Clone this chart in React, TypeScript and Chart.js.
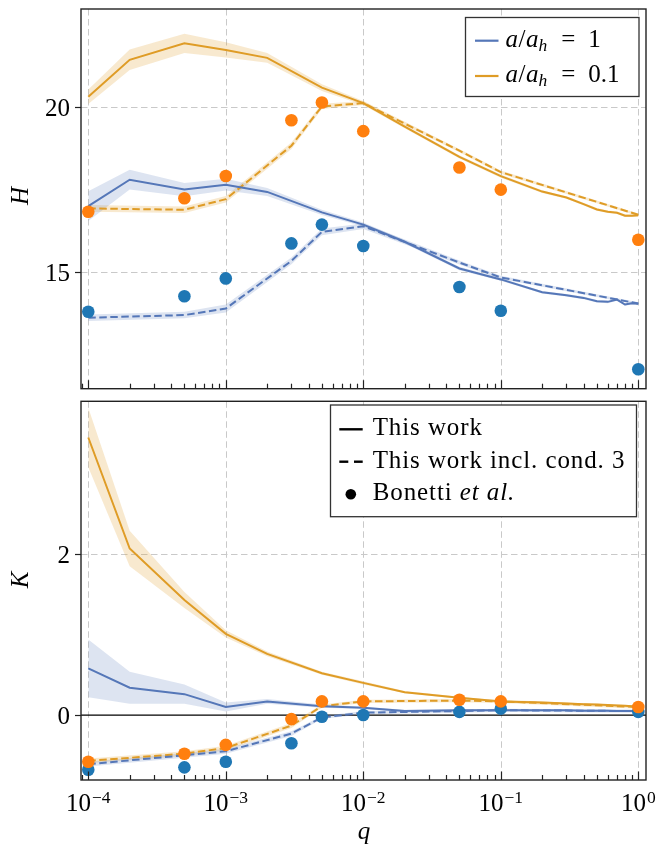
import React, { useEffect, useRef } from 'react';
import { Chart, registerables } from 'chart.js';

Chart.register(...registerables);

// ---------------- data ----------------
const qSim = [1e-4, 2e-4, 5e-4, 1e-3, 2e-3, 5e-3, 1e-2, 2e-2, 5e-2, 0.1, 0.2, 0.3, 0.4, 0.5, 0.6, 0.7, 0.8, 0.9, 1];
const qCond = [1e-4, 5e-4, 1e-3, 3e-3, 5e-3, 1e-2, 5e-2, 0.1, 1];
const qBonetti = [1e-4, 5e-4, 1e-3, 3e-3, 5e-3, 1e-2, 5e-2, 0.1, 1];

// H, a/a_h = 1
const hWorkA1 = [17.01, 17.81, 17.51, 17.66, 17.44, 16.82, 16.45, 15.93, 15.12, 14.79, 14.40, 14.31, 14.23, 14.13, 14.11, 14.18, 14.03, 14.07, 14.05];
const hWorkA1Err = [0.45, 0.30, 0.20, 0.18, 0.12, 0.08, 0.06, 0.05, 0.05, 0.04, 0.04, 0.04, 0.04, 0.04, 0.04, 0.04, 0.04, 0.04, 0.04];
const hCondA1 = [13.63, 13.71, 13.91, 15.35, 16.23, 16.40, 15.30, 14.85, 14.06];
const hCondA1Err = [0.10, 0.10, 0.12, 0.10, 0.10, 0.08, 0.06, 0.05, 0.04];
const hBonettiA1 = [13.81, 14.28, 14.82, 15.88, 16.45, 15.80, 14.56, 13.84, 12.07];

// H, a/a_h = 0.1
const hWorkA01 = [20.32, 21.44, 21.94, 21.74, 21.50, 20.60, 20.13, 19.42, 18.50, 17.92, 17.45, 17.27, 17.07, 16.91, 16.84, 16.81, 16.72, 16.72, 16.73];
const hWorkA01Err = [0.22, 0.31, 0.29, 0.23, 0.15, 0.10, 0.06, 0.05, 0.05, 0.05, 0.04, 0.04, 0.04, 0.04, 0.04, 0.04, 0.04, 0.04, 0.04];
const hCondA01 = [16.94, 16.90, 17.22, 18.84, 20.03, 20.13, 18.69, 18.04, 16.75];
const hCondA01Err = [0.10, 0.10, 0.10, 0.10, 0.08, 0.06, 0.05, 0.05, 0.04];
const hBonettiA01 = [16.84, 17.25, 17.92, 19.61, 20.15, 19.28, 18.18, 17.51, 15.99];

// K, a/a_h = 1
const kWorkA1 = [0.58, 0.34, 0.26, 0.10, 0.17, 0.11, 0.09, 0.05, 0.06, 0.06, 0.06, 0.06, 0.055, 0.055, 0.055, 0.05, 0.05, 0.05, 0.05];
const kWorkA1Err = [0.36, 0.20, 0.12, 0.055, 0.03, 0.02, 0.015, 0.015, 0.01, 0.01, 0.01, 0.01, 0.01, 0.01, 0.01, 0.01, 0.01, 0.01, 0.01];
const kCondA1 = [-0.61, -0.50, -0.45, -0.23, -0.03, 0.03, 0.05, 0.06, 0.05];
const kCondA1Err = [0.03, 0.03, 0.03, 0.03, 0.02, 0.02, 0.02, 0.02, 0.02];
const kBonettiA1 = [-0.68, -0.65, -0.58, -0.35, -0.02, 0.0, 0.04, 0.08, 0.04];

// K, a/a_h = 0.1
const kWorkA01 = [3.45, 2.07, 1.43, 1.01, 0.76, 0.52, 0.40, 0.285, 0.215, 0.17, 0.155, 0.145, 0.135, 0.13, 0.125, 0.12, 0.115, 0.11, 0.105];
const kWorkA01Err = [0.37, 0.22, 0.10, 0.045, 0.03, 0.02, 0.02, 0.015, 0.012, 0.01, 0.01, 0.01, 0.01, 0.01, 0.01, 0.01, 0.01, 0.01, 0.01];
const kCondA01 = [-0.57, -0.48, -0.41, -0.13, 0.11, 0.17, 0.18, 0.17, 0.10];
const kCondA01Err = [0.03, 0.03, 0.03, 0.03, 0.02, 0.02, 0.02, 0.02, 0.02];
const kBonettiA01 = [-0.58, -0.48, -0.37, -0.05, 0.17, 0.17, 0.19, 0.17, 0.10];

// ticks / labels
const xMajorExps = [-4, -3, -2, -1, 0];
const hTicks = [15, 20];
const kTicks = [0, 2];
const kGrid = [2];
const legendRatios = ['1', '0.1'];
const legendStyles = ['This work', 'This work incl. cond. 3', 'Bonetti '];
const legendEtAl = 'et al.';

// ---------------- styles ----------------
const SERIF = '"Liberation Serif", "Times New Roman", serif';
const FS = 25;
const BLUE = '#5577b8';
const ORANGE = '#df9c26';
const BLUE_BAND = 'rgba(85,119,184,0.2)';
const ORANGE_BAND = 'rgba(223,156,38,0.22)';
const DOT_BLUE = '#1f77b4';
const DOT_ORANGE = '#ff7f0e';
const GRID = '#c9c9c9';
const SPINE = '#222222';
const X_MIN = Math.pow(10, -4.053);
const X_MAX = Math.pow(10, 0.056);

const font = (size: number, italic = false) => `${italic ? 'italic ' : ''}${size}px ${SERIF}`;
const pts = (xs: number[], ys: number[]) => xs.map((x, i) => ({ x, y: ys[i] }));

function band(xs: number[], ys: number[], err: number[], color: string) {
  return [
    {
      data: pts(xs, ys.map((v, i) => v + err[i])),
      fill: '+1', backgroundColor: color, borderColor: 'transparent', borderWidth: 0,
      pointRadius: 0, tension: 0, order: 10,
    },
    {
      data: pts(xs, ys.map((v, i) => v - err[i])),
      fill: false, borderColor: 'transparent', borderWidth: 0, pointRadius: 0, tension: 0, order: 10,
    },
  ];
}

function line(xs: number[], ys: number[], color: string, dashed: boolean) {
  return {
    data: pts(xs, ys), borderColor: color, borderWidth: 2, pointRadius: 0, fill: false,
    tension: 0, borderDash: dashed ? [7.5, 3.5] : [], order: 5,
  };
}

function dots(xs: number[], ys: number[], color: string, order: number) {
  return {
    data: pts(xs, ys), showLine: false, pointRadius: 6.3, pointBackgroundColor: color,
    pointBorderColor: color, pointBorderWidth: 0, borderColor: color, order,
  };
}

// ---------------- drawing helpers ----------------
function drawGrid(chart: any, yVals: number[], zero: boolean) {
  const { ctx, chartArea: a } = chart;
  const xs = chart.scales.x, ys = chart.scales.y;
  ctx.save();
  ctx.strokeStyle = GRID;
  ctx.lineWidth = 1;
  ctx.setLineDash([6.5, 3.5]);
  for (const e of xMajorExps) {
    const px = Math.round(xs.getPixelForValue(Math.pow(10, e))) + 0.5;
    ctx.beginPath(); ctx.moveTo(px, a.top); ctx.lineTo(px, a.bottom); ctx.stroke();
  }
  for (const v of yVals) {
    const py = Math.round(ys.getPixelForValue(v)) + 0.5;
    ctx.beginPath(); ctx.moveTo(a.left, py); ctx.lineTo(a.right, py); ctx.stroke();
  }
  ctx.setLineDash([]);
  if (zero) {
    const py = ys.getPixelForValue(0);
    ctx.strokeStyle = '#000';
    ctx.lineWidth = 1.3;
    ctx.beginPath(); ctx.moveTo(a.left, py); ctx.lineTo(a.right, py); ctx.stroke();
  }
  ctx.restore();
}

function drawFrame(chart: any, yTickVals: number[], title: string, titleY: number) {
  const { ctx, chartArea: a } = chart;
  const xs = chart.scales.x, ys = chart.scales.y;
  ctx.save();
  ctx.strokeStyle = SPINE;
  ctx.lineWidth = 1.4;
  ctx.strokeRect(a.left, a.top, a.right - a.left, a.bottom - a.top);
  ctx.lineWidth = 1.2;
  for (let e = -5; e <= 0; e++) {
    for (let k = 1; k <= 9; k++) {
      const v = k * Math.pow(10, e);
      if (v < X_MIN || v > X_MAX) continue;
      const px = Math.round(xs.getPixelForValue(v)) + 0.5;
      const len = k === 1 ? 8.5 : 5;
      ctx.beginPath(); ctx.moveTo(px, a.bottom); ctx.lineTo(px, a.bottom - len); ctx.stroke();
    }
  }
  ctx.fillStyle = '#000';
  ctx.font = font(FS);
  ctx.textAlign = 'right';
  ctx.textBaseline = 'alphabetic';
  for (const v of yTickVals) {
    const py = Math.round(ys.getPixelForValue(v)) + 0.5;
    ctx.beginPath(); ctx.moveTo(a.left - 6, py); ctx.lineTo(a.left, py); ctx.stroke();
    ctx.fillText(String(v), a.left - 11, py + 8);
  }
  ctx.save();
  ctx.translate(21, titleY);
  ctx.rotate(-Math.PI / 2);
  ctx.font = font(FS, true);
  ctx.textAlign = 'center';
  ctx.textBaseline = 'middle';
  ctx.fillText(title, 0, 0);
  ctx.restore();
  ctx.restore();
}

function drawXLabels(chart: any) {
  const { ctx, chartArea: a } = chart;
  const xs = chart.scales.x;
  ctx.save();
  ctx.fillStyle = '#000';
  ctx.textAlign = 'left';
  ctx.textBaseline = 'alphabetic';
  for (const e of xMajorExps) {
    const cx = xs.getPixelForValue(Math.pow(10, e));
    const sup = e < 0 ? '\u2212' + Math.abs(e) : String(e);
    ctx.font = font(FS);
    const wb = ctx.measureText('10').width;
    ctx.font = font(17.5);
    const ws = ctx.measureText(sup).width;
    const x0 = cx - (wb + ws + 1) / 2;
    ctx.font = font(FS);
    ctx.fillText('10', x0, a.bottom + 31);
    ctx.font = font(17.5);
    ctx.fillText(sup, x0 + wb + 1, a.bottom + 22.5);
  }
  ctx.font = font(FS, true);
  ctx.textAlign = 'center';
  ctx.fillText('q', (a.left + a.right) / 2 + 0.5, a.bottom + 59);
  ctx.restore();
}

function legendBox(ctx: CanvasRenderingContext2D, x: number, y: number, w: number, h: number) {
  ctx.fillStyle = '#fff';
  ctx.fillRect(x, y, w, h);
  ctx.strokeStyle = '#333';
  ctx.lineWidth = 1.3;
  ctx.strokeRect(x, y, w, h);
}

function drawLegendTop(chart: any) {
  const ctx: CanvasRenderingContext2D = chart.ctx;
  ctx.save();
  legendBox(ctx, 465.5, 17.5, 173.5, 79);
  const colors = [BLUE, ORANGE];
  const rowsY = [40.7, 76];
  legendRatios.forEach((val, i) => {
    const y = rowsY[i];
    ctx.strokeStyle = colors[i];
    ctx.lineWidth = 2.2;
    ctx.beginPath(); ctx.moveTo(475, y); ctx.lineTo(498.5, y); ctx.stroke();
    ctx.fillStyle = '#000';
    ctx.textAlign = 'left';
    ctx.textBaseline = 'alphabetic';
    const base = y + 6;
    let x = 505.5;
    ctx.font = font(FS, true);
    ctx.fillText('a', x, base); x += ctx.measureText('a').width + 0.5;
    ctx.font = font(FS);
    ctx.fillText('/', x, base); x += ctx.measureText('/').width + 0.5;
    ctx.font = font(FS, true);
    ctx.fillText('a', x, base); x += ctx.measureText('a').width;
    ctx.font = font(17.5, true);
    ctx.fillText('h', x, base + 4); x += ctx.measureText('h').width;
    x += 14;
    ctx.font = font(FS);
    ctx.fillText('=', x, base); x += ctx.measureText('=').width + 13;
    ctx.fillText(val, x, base);
  });
  ctx.restore();
}

function drawLegendBottom(chart: any) {
  const ctx: any = chart.ctx;
  ctx.save();
  legendBox(ctx, 330.5, 10, 306, 111.7);
  const rowsY = [34.3, 66.7, 99.3];
  ctx.strokeStyle = '#000';
  ctx.lineWidth = 2.4;
  ctx.beginPath(); ctx.moveTo(339.3, rowsY[0]); ctx.lineTo(362.7, rowsY[0]); ctx.stroke();
  ctx.beginPath(); ctx.moveTo(339.3, rowsY[1]); ctx.lineTo(348.3, rowsY[1]); ctx.stroke();
  ctx.beginPath(); ctx.moveTo(354, rowsY[1]); ctx.lineTo(362.7, rowsY[1]); ctx.stroke();
  ctx.fillStyle = '#000';
  ctx.beginPath(); ctx.arc(350.8, rowsY[2], 5.3, 0, Math.PI * 2); ctx.fill();
  ctx.textAlign = 'left';
  ctx.textBaseline = 'alphabetic';
  ctx.letterSpacing = '0.9px';
  ctx.font = font(FS);
  ctx.fillText(legendStyles[0], 372.7, rowsY[0] + 6);
  ctx.fillText(legendStyles[1], 372.7, rowsY[1] + 6);
  ctx.fillText(legendStyles[2], 372.7, rowsY[2] + 6);
  const w = ctx.measureText(legendStyles[2]).width;
  ctx.font = font(FS, true);
  ctx.fillText(legendEtAl, 372.7 + w, rowsY[2] + 6);
  ctx.letterSpacing = '0px';
  ctx.restore();
}

// ---------------- chart configs ----------------
function baseOptions(yMin: number, yMax: number, padding: any) {
  return {
    responsive: false,
    animation: false,
    devicePixelRatio: 1,
    events: [],
    layout: { padding },
    plugins: { legend: { display: false }, tooltip: { enabled: false }, title: { display: false } },
    scales: {
      x: { type: 'logarithmic', min: X_MIN, max: X_MAX, display: false },
      y: { type: 'linear', min: yMin, max: yMax, display: false },
    },
  };
}

function topConfig(): any {
  const datasets = [
    ...band(qSim, hWorkA1, hWorkA1Err, BLUE_BAND),
    ...band(qCond, hCondA1, hCondA1Err, BLUE_BAND),
    ...band(qSim, hWorkA01, hWorkA01Err, ORANGE_BAND),
    ...band(qCond, hCondA01, hCondA01Err, ORANGE_BAND),
    line(qSim, hWorkA1, BLUE, false),
    line(qCond, hCondA1, BLUE, true),
    line(qSim, hWorkA01, ORANGE, false),
    line(qCond, hCondA01, ORANGE, true),
    dots(qBonetti, hBonettiA1, DOT_BLUE, 1),
    dots(qBonetti, hBonettiA01, DOT_ORANGE, 0),
  ];
  return {
    type: 'line',
    data: { datasets },
    options: baseOptions(11.48, 22.98, { left: 81, right: 10, top: 9, bottom: 0 }),
    plugins: [{
      id: 'topDeco',
      beforeDatasetsDraw: (c: any) => drawGrid(c, hTicks, false),
      afterDatasetsDraw: (c: any) => {
        drawFrame(c, hTicks, 'H', 196);
        drawLegendTop(c);
      },
    }],
  };
}

function bottomConfig(): any {
  const datasets = [
    ...band(qSim, kWorkA1, kWorkA1Err, BLUE_BAND),
    ...band(qCond, kCondA1, kCondA1Err, BLUE_BAND),
    ...band(qSim, kWorkA01, kWorkA01Err, ORANGE_BAND),
    ...band(qCond, kCondA01, kCondA01Err, ORANGE_BAND),
    line(qSim, kWorkA1, BLUE, false),
    line(qCond, kCondA1, BLUE, true),
    line(qSim, kWorkA01, ORANGE, false),
    line(qCond, kCondA01, ORANGE, true),
    dots(qBonetti, kBonettiA1, DOT_BLUE, 1),
    dots(qBonetti, kBonettiA01, DOT_ORANGE, 0),
  ];
  return {
    type: 'line',
    data: { datasets },
    options: baseOptions(-0.807, 3.90, { left: 81, right: 10, top: 0, bottom: 66 }),
    plugins: [{
      id: 'bottomDeco',
      beforeDatasetsDraw: (c: any) => drawGrid(c, kGrid, true),
      afterDatasetsDraw: (c: any) => {
        drawFrame(c, kTicks, 'K', 185);
        drawXLabels(c);
        drawLegendBottom(c);
      },
    }],
  };
}

export default function App() {
  const topRef = useRef<HTMLCanvasElement>(null);
  const botRef = useRef<HTMLCanvasElement>(null);
  useEffect(() => {
    const top = new Chart(topRef.current as HTMLCanvasElement, topConfig());
    const bot = new Chart(botRef.current as HTMLCanvasElement, bottomConfig());
    return () => {
      top.destroy();
      bot.destroy();
    };
  }, []);
  return (
    <div style={{ position: 'absolute', left: 0, top: 0, width: 656, height: 846, background: '#fff' }}>
      <canvas ref={topRef} width={656} height={395}
        style={{ position: 'absolute', left: 0, top: 0, width: 656, height: 395, display: 'block' }} />
      <canvas ref={botRef} width={656} height={451}
        style={{ position: 'absolute', left: 0, top: 395, width: 656, height: 451, display: 'block' }} />
    </div>
  );
}
